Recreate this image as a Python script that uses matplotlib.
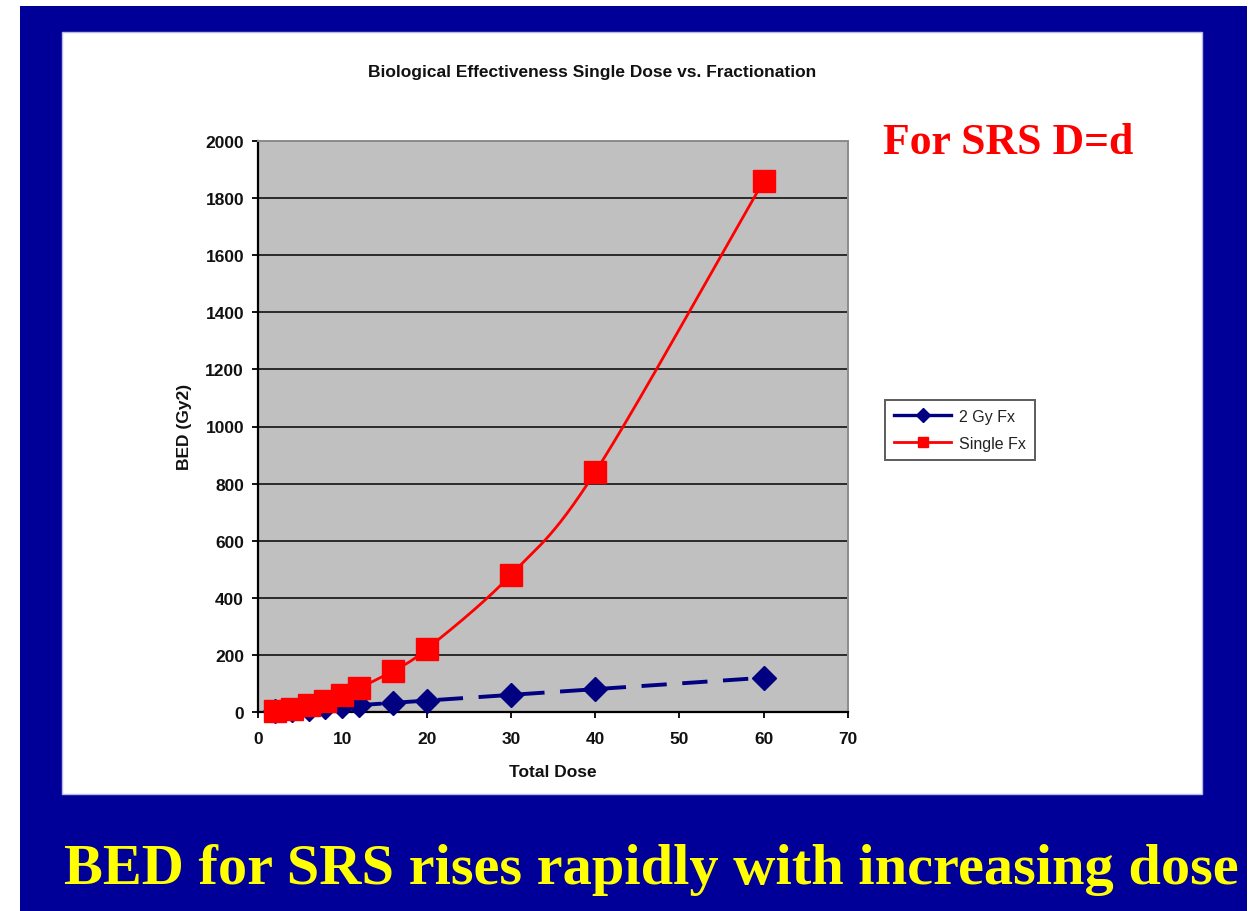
import numpy as np
import matplotlib
matplotlib.use("Agg")
import matplotlib.pyplot as plt
from matplotlib.patches import Rectangle
from matplotlib.lines import Line2D

# Total dose (Gy) and biologically effective dose for each schedule
total_dose = [2, 4, 6, 8, 10, 12, 16, 20, 30, 40, 60]
bed_2gy_fx = [4, 8, 12, 16, 20, 24, 32, 40, 60, 80, 120]
bed_single_fx = [4, 12, 24, 40, 60, 84, 144, 220, 480, 840, 1860]

series_labels = ["2 Gy Fx", "Single Fx"]
x_ticks = [0, 10, 20, 30, 40, 50, 60, 70]
y_ticks = [0, 200, 400, 600, 800, 1000, 1200, 1400, 1600, 1800, 2000]

W, H = 1258, 912
fig = plt.figure(figsize=(W / 100, H / 100), dpi=100)
fig.patch.set_facecolor("white")


def fig_rect(x0, y0, x1, y1, **kw):
    """Rectangle given in pixel coordinates measured from the top-left corner."""
    r = Rectangle((x0 / W, 1 - y1 / H), (x1 - x0) / W, (y1 - y0) / H,
                  transform=fig.transFigure, **kw)
    fig.patches.append(r)


# Slide background and white chart panel
fig_rect(20, 7, 1247, 912, facecolor="#000099", edgecolor="none", zorder=0)
fig_rect(62, 33, 1202, 795, facecolor="white", edgecolor="#b8b8e8", linewidth=1.0, zorder=1)


def smooth(xs, ys, n=30):
    """Catmull-Rom curve through the points, like a spreadsheet's smoothed line."""
    pts = np.column_stack([xs, ys]).astype(float)
    p = np.vstack([2 * pts[0] - pts[1], pts, 2 * pts[-1] - pts[-2]])
    out = []
    t = np.linspace(0, 1, n, endpoint=False)[:, None]
    for i in range(1, len(p) - 2):
        p0, p1, p2, p3 = p[i - 1], p[i], p[i + 1], p[i + 2]
        seg = 0.5 * ((2 * p1) + (-p0 + p2) * t + (2 * p0 - 5 * p1 + 4 * p2 - p3) * t ** 2
                     + (-p0 + 3 * p1 - 3 * p2 + p3) * t ** 3)
        out.append(seg)
    out.append(pts[-1][None, :])
    c = np.vstack(out)
    return c[:, 0], c[:, 1]


ax = fig.add_axes([258 / W, 1 - 713 / H, (848 - 258) / W, (713 - 142) / H], zorder=2)
ax.set_facecolor("#c0c0c0")
ax.set_xlim(0, 70)
ax.set_ylim(0, 2000)
ax.set_xticks(x_ticks)
ax.set_yticks(y_ticks)

text_color = "#111111"
tick_font = dict(family="Liberation Sans", weight="bold", size=12.5)
ax.set_xticklabels([str(v) for v in x_ticks], fontdict=tick_font, color=text_color)
ax.set_yticklabels([str(v) for v in y_ticks], fontdict=tick_font, color=text_color)
ax.tick_params(axis="both", direction="out", length=4, width=1.3, color="black")
ax.tick_params(axis="x", pad=10)
ax.tick_params(axis="y", pad=6)
ax.yaxis.grid(True, color="#2a2a2a", linewidth=1.4)
ax.set_axisbelow(True)
for side in ("left", "bottom"):
    ax.spines[side].set_color("black")
    ax.spines[side].set_linewidth(1.6)
for side in ("top", "right"):
    ax.spines[side].set_color("#8c8c8c")
    ax.spines[side].set_linewidth(1.4)

# 2 Gy fractions: dashed navy line with diamonds
sx, sy = smooth(total_dose, bed_2gy_fx)
ax.plot(sx, sy, color="#000080", linewidth=2.8, dashes=(6.5, 4), zorder=3, clip_on=False)
ax.plot(total_dose, bed_2gy_fx, linestyle="none", marker="D", markersize=12.5,
        color="#000080", zorder=4, clip_on=False)

# Single fraction: solid red line with squares
sx, sy = smooth(total_dose, bed_single_fx)
ax.plot(sx, sy, color="#ff0000", linewidth=2.0, zorder=5, clip_on=False)
ax.plot(total_dose, bed_single_fx, linestyle="none", marker="s", markersize=15.5,
        color="#ff0000", zorder=6, clip_on=False)

label_font = dict(family="Liberation Sans", weight="bold", size=12.5)
fig.text(592 / W, 1 - 73 / H, "Biological Effectiveness Single Dose vs. Fractionation",
         fontdict=label_font, color=text_color, ha="center", va="center", zorder=3)
fig.text(553 / W, 1 - 773 / H, "Total Dose", fontdict=label_font, color=text_color,
         ha="center", va="center", zorder=3)
fig.text(185 / W, 1 - 427 / H, "BED (Gy2)", fontdict=label_font, color=text_color,
         ha="center", va="center", rotation=90, zorder=3)

# Legend with short line + marker samples
handles = [
    Line2D([], [], color="#000080", linewidth=2.4, marker="D", markersize=7),
    Line2D([], [], color="#ff0000", linewidth=2.0, marker="s", markersize=7),
]
leg = fig.legend(handles, series_labels, loc="upper left",
                 bbox_to_anchor=(877 / W, 1 - 393 / H),
                 prop=dict(family="Liberation Sans", size=11.5),
                 frameon=True, fancybox=False, edgecolor="#333333",
                 handlelength=3.6, handletextpad=0.5, borderpad=0.55, labelspacing=0.75)
leg.get_frame().set_linewidth(1.4)
for t in leg.get_texts():
    t.set_color("#222222")

fig.text(883 / W, 1 - 143 / H, "For SRS D=d", color="#ff0000",
         fontfamily="Liberation Serif", fontweight="bold", fontsize=31.5,
         ha="left", va="center", zorder=3)

fig.text(651 / W, 1 - 870 / H, "BED for SRS rises rapidly with increasing dose",
         color="#ffff00", fontfamily="Liberation Serif", fontweight="bold", fontsize=42,
         ha="center", va="center", zorder=3)

fig.savefig("out.png", dpi=100, facecolor=fig.get_facecolor())
